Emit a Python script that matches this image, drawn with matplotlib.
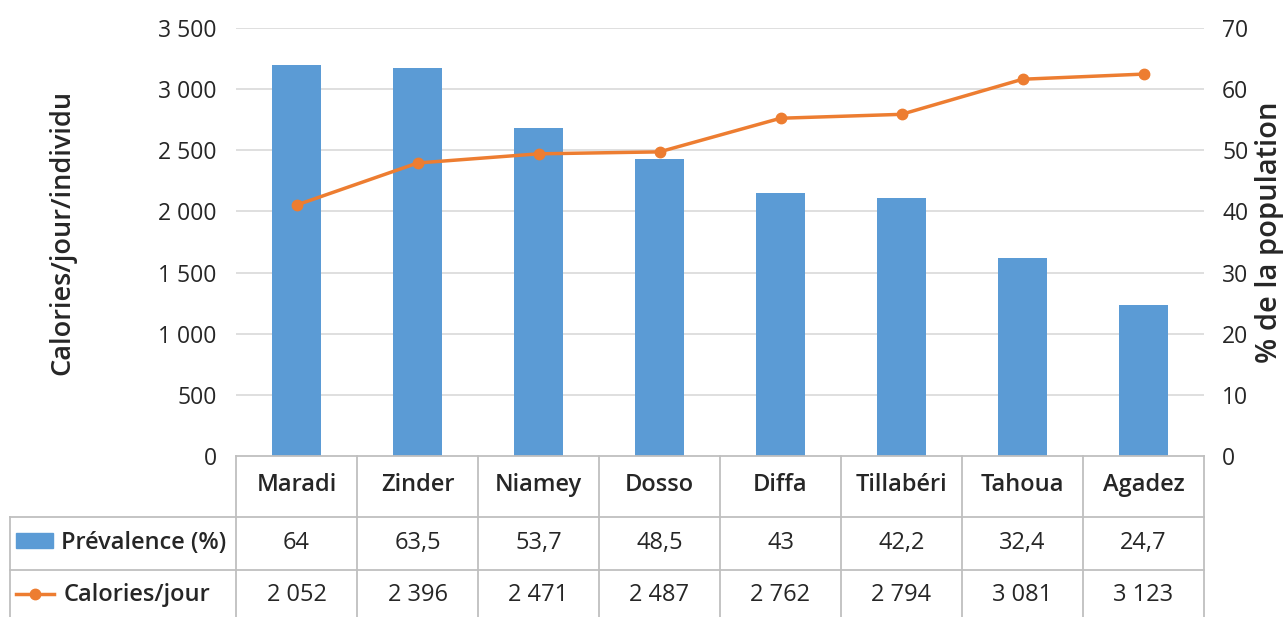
import matplotlib.pyplot as plt
import matplotlib.transforms as mtransforms
from matplotlib.lines import Line2D
from matplotlib.patches import Rectangle

plt.rcParams['font.family'] = ['Open Sans', 'DejaVu Sans']

regions = ['Maradi', 'Zinder', 'Niamey', 'Dosso', 'Diffa', 'Tillabéri', 'Tahoua', 'Agadez']
prevalence = [64, 63.5, 53.7, 48.5, 43, 42.2, 32.4, 24.7]
calories = [2052, 2396, 2471, 2487, 2762, 2794, 3081, 3123]

blue = '#5B9BD5'
orange = '#ED7D31'
grid_c = '#D9D9D9'
line_c = '#BFBFBF'
txt_c = '#262626'

def fr_num(v):
    if isinstance(v, float) and not v.is_integer():
        return str(v).replace('.', ',')
    s = f'{int(v):,}'.replace(',', ' ')
    return s

W, H = 1285, 617
fig = plt.figure(figsize=(W / 100, H / 100), dpi=100)
x0, x1, y0, y1 = 236, 1204, 456, 28
ax = fig.add_axes([x0 / W, 1 - y0 / H, (x1 - x0) / W, (y0 - y1) / H])
ax2 = ax.twinx()

n = len(regions)
xs = list(range(n))

# bars on the right (%) axis, line on the left (calories) axis
ax2.bar(xs, prevalence, width=0.4, color=blue, zorder=2)
ax.set_zorder(ax2.get_zorder() + 1)
ax.patch.set_visible(False)
ax.plot(xs, calories, color=orange, lw=2.5, marker='o', ms=7.5, zorder=3)

ax.set_xlim(-0.5, n - 0.5)
ax.set_ylim(0, 3500)
ax2.set_ylim(0, 70)
ax.set_yticks(range(0, 3501, 500))
ax.set_yticklabels([fr_num(v) for v in range(0, 3501, 500)])
ax2.set_yticks(range(0, 71, 10))
ax.set_xticks([])

for a in (ax, ax2):
    for s in a.spines.values():
        s.set_visible(False)
    a.tick_params(axis='y', length=0, labelsize=16.5, colors=txt_c)
ax.tick_params(axis='y', pad=14)
ax2.tick_params(axis='y', pad=13)

for v in range(500, 3501, 500):
    ax2.axhline(v / 50, color=grid_c, lw=1.2, zorder=0)

def fy(px):
    return 1 - px / H

def fx(px):
    return px / W

fig.text(fx(62), fy(232), 'Calories/jour/individu', rotation=90, ha='center', va='center',
         fontsize=19.5, fontweight='semibold', color=txt_c)
fig.text(fx(1270), fy(232), '% de la population', rotation=90, ha='center', va='center',
         fontsize=21, fontweight='semibold', color=txt_c)

# data table below the plot
tr = mtransforms.blended_transform_factory(ax.transData, fig.transFigure)

fig.add_artist(Line2D([fx(x0), fx(x1)], [fy(456), fy(456)], color=line_c, lw=1.3))
for yy in (517, 570):
    fig.add_artist(Line2D([fx(10), fx(x1)], [fy(yy), fy(yy)], color=line_c, lw=1.3))
fig.add_artist(Line2D([fx(10), fx(10)], [fy(517), 0], color=line_c, lw=1.3))
for i in range(n + 1):
    fig.add_artist(Line2D([i - 0.5, i - 0.5], [fy(456), 0], color=line_c, lw=1.3,
                          transform=tr))

for i, r in enumerate(regions):
    fig.text(i, fy(485), r, transform=tr, ha='center', va='center', fontsize=17,
             fontweight='semibold', color=txt_c)
    fig.text(i, fy(543), fr_num(prevalence[i]), transform=tr, ha='center', va='center',
             fontsize=17, color=txt_c)
    fig.text(i, fy(595), fr_num(calories[i]), transform=tr, ha='center', va='center',
             fontsize=17, color=txt_c)

# legend keys in the row headers
fig.add_artist(Rectangle((fx(16), fy(548)), fx(37), 15 / H, color=blue))
fig.add_artist(Line2D([fx(16), fx(54)], [fy(594), fy(594)], color=orange, lw=2.5))
fig.add_artist(Line2D([fx(35)], [fy(594)], color=orange, marker='o', ms=7.5))
fig.text(fx(61), fy(543), 'Prévalence (%)', ha='left', va='center', fontsize=17,
         fontweight='semibold', color=txt_c)
fig.text(fx(64), fy(595), 'Calories/jour', ha='left', va='center', fontsize=17,
         fontweight='semibold', color=txt_c)

fig.savefig('out.png', dpi=100)
